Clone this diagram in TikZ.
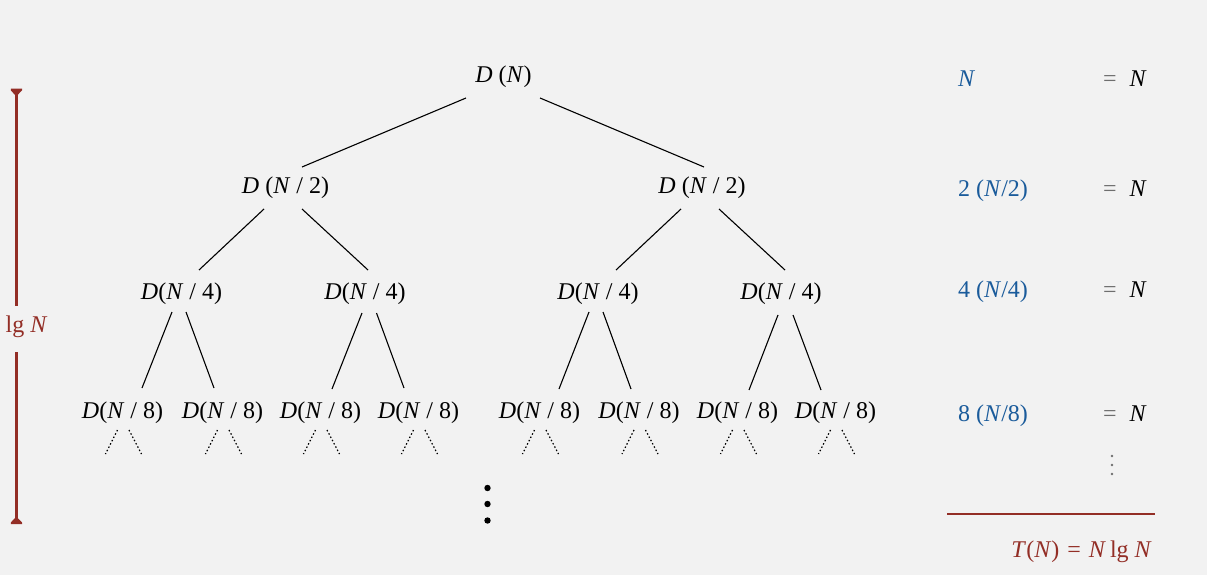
\documentclass[tikz,border=0pt]{standalone}
\usepackage{fontspec}
\setmainfont{Liberation Serif}
\definecolor{bg}{HTML}{F2F2F2}
\definecolor{lgred}{RGB}{147,46,38}
\definecolor{sumblue}{RGB}{26,91,155}
\definecolor{eqgray}{RGB}{110,110,110}
\newcommand\callD[2]{\textit{D}#1(\textit{N}#2)}
\newcommand\link[4]{\draw[treeedge] ([shift={(#2)}]#1.base) -- ([shift={(#4)}]#3.base);}
\begin{document}
\begin{tikzpicture}[x=1pt,y=-1pt,
  every node/.style={inner sep=0pt, font=\fontsize{24}{28}\selectfont},
  call/.style={anchor=base},
  levelsum/.style={anchor=base west, text=sumblue},
  levelres/.style={anchor=base east},
  treeedge/.style={line width=1.1pt, line cap=butt},
  tailedge/.style={line width=1.2pt, dash pattern=on 1.5pt off 2.2pt},
  brace/.style={lgred, line width=2.4pt}]
\fill[bg] (0,0) rectangle (1207,575);
\useasboundingbox (0,0) rectangle (1207,575);

% recursion tree
\node[call] (root) at (503.5,83) {\callD{\ }{}};
\node[call] (l) at (285.5,193) {\callD{\ }{\ /\ 2}};
\node[call] (r) at (702,193) {\callD{\ }{\ /\ 2}};
\node[call] (a) at (181.5,299) {\callD{}{\ /\ 4}};
\node[call] (b) at (365,299) {\callD{}{\ /\ 4}};
\node[call] (c) at (598,299) {\callD{}{\ /\ 4}};
\node[call] (d) at (781,299) {\callD{}{\ /\ 4}};
\foreach \i/\x in {1/122.5,2/222.5,3/320.5,4/418.5,5/539.5,6/639,7/737.5,8/835.5}
  \node[call] (n\i) at (\x,418) {\callD{}{\ /\ 8}};

\link{root}{-37.5,15}{l}{16.5,-26}
\link{root}{36.5,15}{r}{2,-26}
\link{l}{-21.5,16}{a}{17.5,-29}
\link{l}{16.5,16}{b}{3,-29}
\link{r}{-21,16}{c}{18,-29}
\link{r}{17,16}{d}{4,-29}
\link{a}{-9.5,13}{n1}{19.5,-30}
\link{a}{4.5,13}{n2}{-8.5,-30}
\link{b}{-3,14}{n3}{11.5,-29}
\link{b}{11.5,14}{n4}{-14.5,-30}
\link{c}{-9,13}{n5}{19.5,-29}
\link{c}{5,13}{n6}{-8,-29}
\link{d}{-3,16}{n7}{11.5,-28}
\link{d}{12,16}{n8}{-14.5,-28}

% unexpanded subtrees
\foreach \i in {1,...,8}{
  \draw[tailedge] ([shift={(-5,12)}]n\i.base) -- ([shift={(-17,36)}]n\i.base);
  \draw[tailedge] ([shift={(6.5,12)}]n\i.base) -- ([shift={(19,36)}]n\i.base);
}
\foreach \y in {488,504,520.5} \fill (487.5,\y) circle (3.2pt);

% depth bracket
\node[anchor=base, text=lgred] (depth) at (26.5,332) {lg \textit{N}};
\draw[brace] (16.3,91) -- (16.3,306);
\draw[brace] (16.3,352) -- (16.3,522);
\fill[lgred] (10.8,88.6) -- (22,88.6) -- (22,90.3) -- (17.6,95) -- (15,95) -- (10.8,90.3) -- cycle;
\fill[lgred] (10.8,524.2) -- (22,524.2) -- (22,522.5) -- (17.6,518) -- (15,518) -- (10.8,522.5) -- cycle;

% cost per level
\node[levelsum] (s0) at (958,87) {\textit{N}};
\node[levelsum] (s1) at (958,196) {2 (\textit{N}/2)};
\node[levelsum] (s2) at (958,297.5) {4 (\textit{N}/4)};
\node[levelsum] (s3) at (958,421.5) {8 (\textit{N}/8)};
\foreach \k/\y in {0/87,1/196,2/297.5,3/421.5}
  \node[levelres] (e\k) at (1147,\y) {\textcolor{eqgray}{=}\hspace{13pt}\textit{N}};
\foreach \y in {456,465,474} \fill[eqgray] (1112,\y) circle (1.3pt);

% total
\draw[lgred, line width=1.2pt] (947,514) -- (1155,514);
\node[levelres, text=lgred] (total) at (1152,557) {\textit{T}(\textit{N})\hspace{8pt}=\hspace{8pt}\textit{N}\,lg\hspace{6pt}\textit{N}};
\end{tikzpicture}
\end{document}
